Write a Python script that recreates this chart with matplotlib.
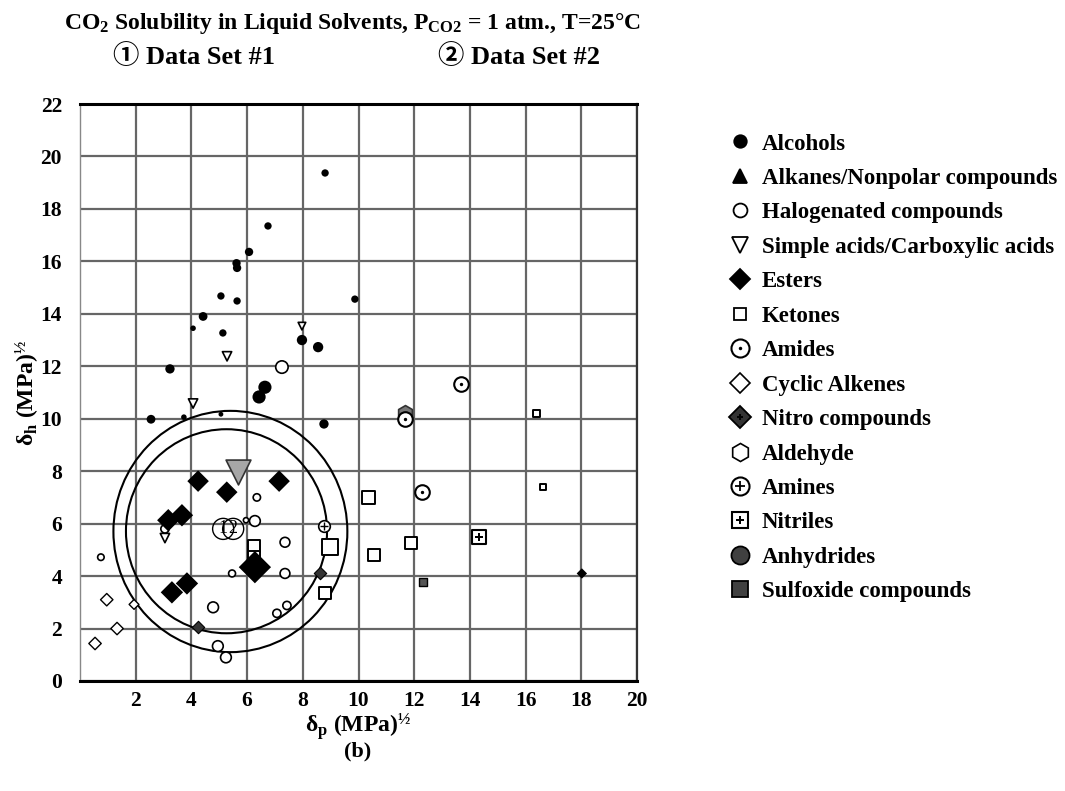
import matplotlib
matplotlib.use("Agg")
import matplotlib.pyplot as plt
from matplotlib.lines import Line2D
from matplotlib.patches import Ellipse

SERIF = "Liberation Serif"
plt.rcParams["font.family"] = [SERIF, "Noto Sans CJK JP", "DejaVu Sans"]
plt.rcParams["font.weight"] = "bold"
plt.rcParams["mathtext.default"] = "regular"

# ---- solvent data: delta_p, delta_h (MPa^1/2) and marker size (points^2) ----
alc_x = [8.8, 6.75, 6.07, 5.62, 5.64, 5.64, 5.06, 4.42, 4.06, 5.13, 7.97, 8.55,
         9.87, 6.64, 6.43, 3.23, 2.55, 3.73, 8.76, 5.06]
alc_y = [19.37, 17.35, 16.36, 15.93, 15.75, 14.49, 14.68, 13.9, 13.45, 13.27, 13.0, 12.73,
         14.56, 11.2, 10.83, 11.9, 9.98, 10.06, 9.8, 10.17]
alc_s = [28, 28, 36, 36, 36, 28, 28, 40, 16, 28, 55, 55,
         28, 90, 90, 45, 40, 16, 45, 12]

acid_x = [7.97, 5.28, 4.06, 3.05]
acid_y = [13.53, 12.38, 10.58, 5.45]
acid_s = [30, 45, 45, 45]

gray_acid_x = [5.67]
gray_acid_y = [7.96]

ester_x = [4.24, 5.27, 7.15, 3.17, 3.66, 3.3, 3.84, 6.28, 18.02]
ester_y = [7.62, 7.2, 7.62, 6.13, 6.32, 3.38, 3.72, 4.34, 4.1]
ester_s = [120, 120, 120, 130, 130, 130, 130, 270, 28]

ketone_x = [6.25, 6.25, 8.98, 10.36, 10.56, 8.8, 11.88, 16.4, 16.62]
ketone_y = [5.13, 4.72, 5.1, 7.0, 4.82, 3.35, 5.25, 10.2, 7.39]
ketone_s = [75, 75, 140, 95, 75, 75, 75, 25, 18]

halo_x = [7.25, 6.35, 6.28, 5.96, 7.36, 7.36, 5.46, 0.75, 4.78, 4.95, 5.24, 7.07, 7.43, 3.05]
halo_y = [11.97, 7.0, 6.1, 6.13, 5.29, 4.1, 4.1, 4.72, 2.81, 1.33, 0.9, 2.58, 2.88, 5.8]
halo_s = [80, 28, 60, 14, 50, 50, 25, 22, 60, 60, 60, 35, 35, 35]

cyclic_x = [0.96, 1.33, 0.54, 1.94]
cyclic_y = [3.1, 2.0, 1.43, 2.92]
cyclic_s = [40, 40, 40, 25]

amide_x = [13.68, 12.28, 11.67]
amide_y = [11.32, 7.2, 10.0]

amine_x = [8.76]
amine_y = [5.9]

nitro_x = [8.62, 4.24]
nitro_y = [4.1, 2.04]

nitrile_x = [14.33]
nitrile_y = [5.48]

anhydride_x = [11.67]
anhydride_y = [10.2]

sulfoxide_x = [12.31]
sulfoxide_y = [3.76]

# Solubility spheres projected on the (delta_p, delta_h) plane
sphere_cx = [5.26, 5.4]
sphere_cy = [5.71, 5.7]
sphere_rx = [3.61, 4.2]
sphere_ry = [3.89, 4.6]
center_x = [5.14, 5.5]
center_y = [5.8, 5.8]
center_labels = ["1", "2"]

x_ticks = [2, 4, 6, 8, 10, 12, 14, 16, 18, 20]
y_ticks = [0, 2, 4, 6, 8, 10, 12, 14, 16, 18, 20, 22]

fig = plt.figure(figsize=(10.65, 7.91), dpi=100)
ax = fig.add_axes([80 / 1065, 1 - 681 / 791, 557 / 1065, 577 / 791])
ax.set_xlim(0, 20)
ax.set_ylim(0, 22)
ax.set_xticks(x_ticks)
ax.set_yticks(y_ticks)
ax.grid(True, color="#666666", linewidth=1.6)
ax.set_axisbelow(True)
ax.tick_params(length=0, labelsize=15.5)
ax.tick_params(axis="y", pad=13)
ax.tick_params(axis="x", pad=7)
for lab in ax.get_xticklabels() + ax.get_yticklabels():
    lab.set_fontweight("bold")
for side in ("top", "bottom"):
    ax.spines[side].set_linewidth(2.2)
    ax.spines[side].set_color("black")
ax.spines["left"].set_color("#888888")
ax.spines["left"].set_linewidth(1.0)
ax.spines["right"].set_color("#333333")
ax.spines["right"].set_linewidth(1.6)

kw = dict(zorder=3)
ax.scatter(alc_x, alc_y, s=alc_s, c="black", marker="o", linewidths=0, **kw)
ax.scatter(acid_x, acid_y, s=acid_s, facecolors="white", edgecolors="black",
           marker="v", linewidths=1.2, **kw)
ax.scatter(gray_acid_x, gray_acid_y, s=320, facecolors="#a6a6a6", edgecolors="#333333",
           marker="v", linewidths=1.2, **kw)
ax.scatter(ketone_x, ketone_y, s=ketone_s, facecolors="white", edgecolors="black",
           marker="s", linewidths=1.4, **kw)
ax.scatter(ester_x, ester_y, s=ester_s, c="black", marker="D", linewidths=0, zorder=4)
ax.scatter(halo_x, halo_y, s=halo_s, facecolors="white", edgecolors="black",
           marker="o", linewidths=1.2, **kw)
ax.scatter(cyclic_x, cyclic_y, s=cyclic_s, facecolors="white", edgecolors="black",
           marker="D", linewidths=1.0, **kw)
ax.scatter(amide_x, amide_y, s=110, facecolors="white", edgecolors="black",
           marker="o", linewidths=1.5, **kw)
ax.scatter(amide_x, amide_y, s=2, c="black", marker="o", zorder=4)
ax.scatter(anhydride_x, anhydride_y, s=130, facecolors="#777777", edgecolors="#333333",
           marker="h", linewidths=1.2, zorder=2.9)
ax.scatter(amine_x, amine_y, s=70, facecolors="white", edgecolors="black",
           marker="o", linewidths=1.2, **kw)
ax.scatter(amine_x, amine_y, s=40, c="black", marker="+", linewidths=1.0, zorder=4)
ax.scatter(nitro_x, nitro_y, s=40, facecolors="#333333", edgecolors="black",
           marker="D", linewidths=0.8, **kw)
ax.scatter(nitrile_x, nitrile_y, s=90, facecolors="white", edgecolors="black",
           marker="s", linewidths=1.5, **kw)
ax.scatter(nitrile_x, nitrile_y, s=40, c="black", marker="P", linewidths=0, zorder=4)
ax.scatter(sulfoxide_x, sulfoxide_y, s=30, facecolors="#555555", edgecolors="black",
           marker="s", linewidths=1.0, **kw)

for cx, cy, rx, ry in zip(sphere_cx, sphere_cy, sphere_rx, sphere_ry):
    ax.add_patch(Ellipse((cx, cy), 2 * rx, 2 * ry, fill=False, edgecolor="black",
                         linewidth=1.5, zorder=2.5))
for cx, cy, t in zip(center_x, center_y, center_labels):
    ax.scatter([cx], [cy], s=230, facecolors="none", edgecolors="black",
               linewidths=1.0, zorder=4)
    ax.text(cx, cy, t, ha="center", va="center", fontsize=13, fontweight="normal",
            zorder=5)

ax.set_xlabel(r"δ$_\mathregular{p}$ (MPa)$^{\mathregular{½}}$", fontsize=17,
              fontweight="bold", va="center")
ax.xaxis.set_label_coords(0.5, -0.078)
ax.set_ylabel(r"δ$_\mathregular{h}$ (MPa)$^{\mathregular{½}}$", fontsize=17,
              fontweight="bold", va="center")
ax.yaxis.set_label_coords(-0.094, 0.5)

fig.text(352 / 1065, 1 - 24 / 791,
         r"CO$_\mathregular{2}$ Solubility in Liquid Solvents, P$_\mathregular{CO2}$ = 1 atm., T=25°C",
         ha="center", va="center", fontsize=17, fontweight="bold")
fig.text(113 / 1065, 1 - 57 / 791, "① Data Set #1", ha="left", va="center",
         fontsize=19, fontweight="bold")
fig.text(438 / 1065, 1 - 57 / 791, "② Data Set #2", ha="left", va="center",
         fontsize=19, fontweight="bold")
fig.text(358 / 1065, 1 - 751 / 791, "(b)", ha="center", va="center",
         fontsize=16, fontweight="bold")

# ---- legend ----
def mk(marker, fc, ec="black", ms=10, mew=1.3):
    return Line2D([], [], linestyle="none", marker=marker, markerfacecolor=fc,
                  markeredgecolor=ec, markersize=ms, markeredgewidth=mew)

handles = [
    mk("o", "black", ms=9),
    mk("^", "black", ms=10),
    mk("o", "white", ms=10),
    mk("v", "white", ms=11),
    mk("D", "black", ms=10),
    mk("s", "white", ms=9),
    (mk("o", "white", ms=13, mew=1.5), mk("o", "black", ms=2.5, mew=0)),
    mk("D", "white", ms=10, mew=1.2),
    (mk("D", "#333333", ms=11), mk("P", "black", ms=5, mew=0)),
    mk("h", "white", ms=13, mew=1.2),
    (mk("o", "white", ms=13, mew=1.5), mk("+", "black", ms=7, mew=1.3)),
    (mk("s", "white", ms=11, mew=1.5), mk("P", "black", ms=6, mew=0)),
    mk("o", "#404040", ms=13),
    mk("s", "#404040", ms=11),
]
labels = ["Alcohols", "Alkanes/Nonpolar compounds", "Halogenated compounds",
          "Simple acids/Carboxylic acids", "Esters", "Ketones", "Amides",
          "Cyclic Alkenes", "Nitro compounds", "Aldehyde", "Amines", "Nitriles",
          "Anhydrides", "Sulfoxide compounds"]
leg = fig.legend(handles, labels, loc="upper left", bbox_to_anchor=(717 / 1065, 1 - 122 / 791),
                 frameon=False, prop={"family": SERIF, "weight": "bold", "size": 16.5},
                 handlelength=1.0, handletextpad=0.45, labelspacing=0.585, borderpad=0)

fig.savefig("out.png", dpi=100)
